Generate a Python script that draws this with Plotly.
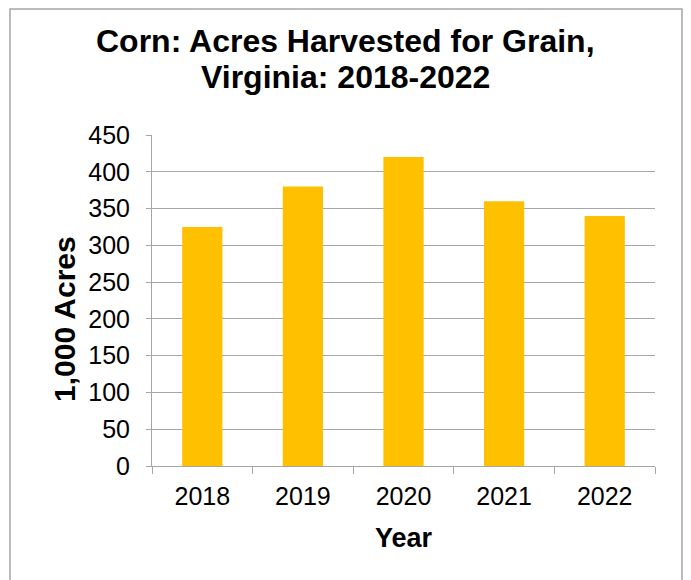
import plotly.graph_objects as go

years = ["2018", "2019", "2020", "2021", "2022"]
acres = [325, 380, 420, 360, 340]
y_ticks = [0, 50, 100, 150, 200, 250, 300, 350, 400, 450]

title_lines = ["Corn: Acres Harvested for Grain,", "Virginia: 2018-2022"]
x_title = "Year"
y_title = "1,000 Acres"

FONT = "Liberation Sans, Arial, sans-serif"
GRID = "#a6a6a6"

OFF = 8  # page body margin
W, H = 683, 572
L, R, T, B = 144, 36, 127, 114
pw = W - L - R
ph = H - T - B


def px(xp):
    return (xp - OFF - L) / pw


def py(yp):
    return (H - B - (yp - OFF)) / ph


fig = go.Figure(
    go.Bar(
        x=years,
        y=acres,
        marker=dict(color="#FFC000", line=dict(width=0)),
        width=0.4,
    )
)

annotations = [
    dict(text=f"<b>{title_lines[0]}</b>", x=px(345), y=py(41)),
    dict(text=f"<b>{title_lines[1]}</b>", x=px(345), y=py(77)),
]
for a in annotations:
    a.update(xref="paper", yref="paper", xanchor="center", yanchor="middle",
             showarrow=False, font=dict(family=FONT, size=32, color="black"))

annotations.append(dict(
    text=f"<b>{x_title}</b>", xref="paper", yref="paper",
    x=px(404), y=py(538), xanchor="center", yanchor="middle", showarrow=False,
    font=dict(family=FONT, size=27, color="black"),
))
annotations.append(dict(
    text=f"<b>{y_title}</b>", textangle=-90, xref="paper", yref="paper",
    x=px(64), y=py(319), xanchor="center", yanchor="middle", showarrow=False,
    font=dict(family=FONT, size=30, color="black"),
))

fig.update_layout(
    width=W,
    height=H,
    margin=dict(l=L, r=R, t=T, b=B),
    paper_bgcolor="white",
    plot_bgcolor="white",
    showlegend=False,
    font=dict(family=FONT, color="black"),
    xaxis=dict(
        type="category",
        showline=True,
        linecolor=GRID,
        linewidth=1,
        ticks="outside",
        tickson="boundaries",
        ticklen=7,
        tickcolor=GRID,
        showgrid=False,
        tickfont=dict(family=FONT, size=25, color="black"),
        ticklabelstandoff=8,
    ),
    yaxis=dict(
        range=[0, 450],
        tickvals=y_ticks,
        showline=True,
        linecolor=GRID,
        linewidth=1,
        ticks="outside",
        ticklen=5,
        tickcolor=GRID,
        showgrid=True,
        gridcolor=GRID,
        gridwidth=1,
        zeroline=False,
        tickfont=dict(family=FONT, size=25, color="black"),
        ticklabelstandoff=11,
    ),
    annotations=annotations,
    shapes=[
        dict(
            type="rect",
            xref="paper",
            yref="paper",
            x0=px(10),
            x1=px(682),
            y0=py(620),
            y1=py(9),
            line=dict(color="#a6a6a6", width=1.5),
            fillcolor="rgba(0,0,0,0)",
            layer="below",
        )
    ],
)

fig.write_html("out.html")
